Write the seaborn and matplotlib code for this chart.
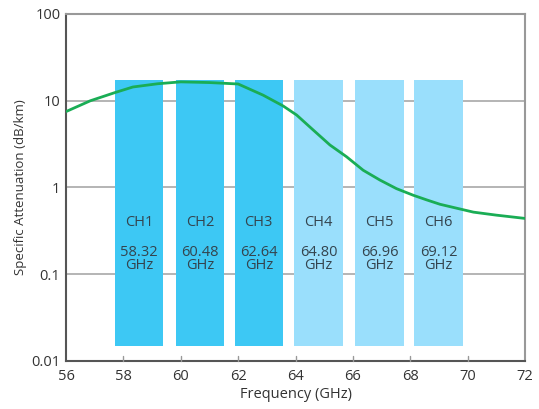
import matplotlib
matplotlib.use("Agg")
import matplotlib.pyplot as plt
import seaborn as sns
import pandas as pd

# --- data ---
channels = ["CH1", "CH2", "CH3", "CH4", "CH5", "CH6"]
channel_freqs = ["58.32", "60.48", "62.64", "64.80", "66.96", "69.12"]
bar_centers = [58.55, 60.67, 62.72, 64.80, 66.93, 68.99]
bar_width = 1.69
bar_top = 17.3
bar_bottom = 0.015

curve_freq = [56, 56.85, 57.7, 58.33, 59.2, 60.0, 61.0, 62.0, 62.87, 63.57,
              64.04, 64.62, 65.2, 65.78, 66.36, 66.94, 67.52, 68.1, 68.57,
              69.04, 70.2, 71.0, 72]
curve_att = [7.5, 10.0, 12.4, 14.4, 15.7, 16.5, 16.2, 15.6, 11.6, 8.7,
             6.84, 4.59, 3.09, 2.26, 1.58, 1.22, 0.97, 0.815, 0.72,
             0.64, 0.52, 0.48, 0.44]

x_ticks = [56, 58, 60, 62, 64, 66, 68, 70, 72]
y_ticks = [0.01, 0.1, 1, 10, 100]
y_ticklabels = ["0.01", "0.1", "1", "10", "100"]

sns.set_style("white")
plt.rcParams["font.family"] = ["Open Sans", "DejaVu Sans"]

fig = plt.figure(figsize=(5.39, 4.09), dpi=100)
ax = fig.add_axes([0.1225, 0.1174, 0.8515, 0.8484])

ax.set_yscale("log")
ax.set_xlim(56, 72)
ax.set_ylim(0.01, 100)

for yv in [0.1, 1, 10]:
    ax.axhline(yv, color="#a8a8a8", lw=1.2, zorder=0)

dark = "#3dc8f4"
light = "#9adffc"
for i, (c, f) in enumerate(zip(bar_centers, channel_freqs)):
    col = dark if i < 3 else light
    ax.bar(c, bar_top - bar_bottom, width=bar_width, bottom=bar_bottom,
           color=col, edgecolor="none", zorder=1)
    ax.text(c, 0.39, channels[i], ha="center", va="center", fontsize=10.5,
            color="#34444e", zorder=3)
    ax.text(c, 0.150, f + "\nGHz", ha="center", va="center", fontsize=10.5,
            color="#34444e", linespacing=0.85, zorder=3)

df = pd.DataFrame({"freq": curve_freq, "att": curve_att})
sns.lineplot(data=df, x="freq", y="att", ax=ax, color="#1aad55", lw=2, zorder=4)

ax.set_xticks(x_ticks)
ax.set_xticklabels([str(t) for t in x_ticks])
ax.set_yticks(y_ticks)
ax.set_yticklabels(y_ticklabels)
ax.minorticks_off()
ax.tick_params(axis="both", labelsize=10.5, colors="#333333", length=0)
ax.tick_params(axis="x", pad=6)
ax.tick_params(axis="y", pad=4)
# small inside tick marks at bottom
for t in x_ticks[1:-1]:
    ax.plot([t, t], [0.01, 0.0115], color="#999999", lw=1, zorder=5, clip_on=False)

for side in ["left", "bottom"]:
    ax.spines[side].set_color("#555555")
    ax.spines[side].set_linewidth(1.5)
for side in ["top", "right"]:
    ax.spines[side].set_color("#999999")
    ax.spines[side].set_linewidth(1.5)

ax.set_xlabel("Frequency (GHz)", fontsize=10.5, color="#333333", labelpad=2)
ax.set_ylabel("Specific Attenuation (dB/km)", fontsize=9.5, color="#333333", labelpad=3)

fig.savefig("out.png", dpi=100)
